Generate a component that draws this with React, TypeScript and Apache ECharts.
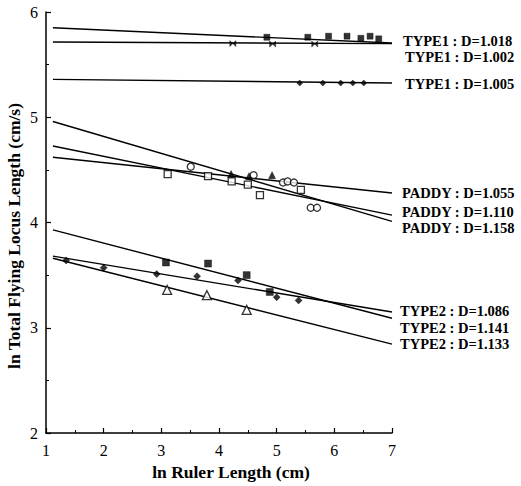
import React, { useEffect, useRef } from "react";
import * as echarts from "echarts";

// Fitted regression lines (start point, end point)
const type1Fits = [
  [[1.12, 5.85], [7, 5.705]],
  [[1.12, 5.715], [7, 5.7]],
  [[1.12, 5.36], [7, 5.325]],
];
const type1Labels = ["TYPE1 : D=1.018", "TYPE1 : D=1.002", "TYPE1 : D=1.005"];

const paddyFits = [
  [[1.12, 4.62], [7, 4.28]],
  [[1.12, 4.727], [7, 4.07]],
  [[1.12, 4.96], [7, 4.01]],
];
const paddyLabels = ["PADDY : D=1.055", "PADDY : D=1.110", "PADDY : D=1.158"];

const type2Fits = [
  [[1.12, 3.68], [7, 3.15]],
  [[1.12, 3.93], [7, 3.09]],
  [[1.12, 3.66], [7, 2.845]],
];
const type2Labels = ["TYPE2 : D=1.086", "TYPE2 : D=1.141", "TYPE2 : D=1.133"];

// Observed points
const type1Squares = [
  [4.83, 5.76], [5.54, 5.76], [5.9, 5.77], [6.22, 5.77], [6.46, 5.75], [6.62, 5.77], [6.77, 5.745],
];
const type1Crosses = [[4.24, 5.7], [4.93, 5.695], [5.66, 5.695]];
const type1Diamonds = [[5.4, 5.325], [5.8, 5.325], [6.11, 5.325], [6.32, 5.325], [6.51, 5.325]];

const paddyCircles = [
  [3.51, 4.53], [4.6, 4.45], [5.11, 4.38], [5.19, 4.39], [5.3, 4.38], [5.59, 4.14], [5.7, 4.14],
];
const paddySquares = [[3.11, 4.46], [3.81, 4.44], [4.22, 4.39], [4.5, 4.36], [4.71, 4.26], [5.42, 4.31]];
const paddyTriangles = [[4.21, 4.46], [4.52, 4.44], [4.92, 4.45]];

const type2Squares = [[3.08, 3.62], [3.81, 3.61], [4.48, 3.5], [4.88, 3.34]];
const type2Diamonds = [
  [1.35, 3.64], [2.0, 3.57], [2.92, 3.51], [3.62, 3.49], [4.33, 3.45], [5.0, 3.29], [5.38, 3.26],
];
const type2Triangles = [[3.1, 3.36], [3.79, 3.31], [4.48, 3.17]];

const xTitle = "ln Ruler Length (cm)";
const yTitle = "ln Total Flying Locus Length (cm/s)";

const FONT = "'Liberation Serif', 'Times New Roman', serif";

const labelPos = [
  [403, 41], [405, 57], [405, 84],
  [402, 193], [402, 212], [402, 228],
  [400, 311], [400, 328], [400, 344],
];

export default function App() {
  const ref = useRef<HTMLDivElement>(null);
  useEffect(() => {
    if (!ref.current) return;
    const chart = echarts.init(ref.current, null, { renderer: "svg" });
    const allFits = [...type1Fits, ...paddyFits, ...type2Fits];
    const allLabels = [...type1Labels, ...paddyLabels, ...type2Labels];
    const lineSeries = allFits.map((pts) => ({
      type: "line",
      data: pts,
      symbol: "none",
      lineStyle: { color: "#000", width: 1.4 },
      z: 2,
    }));
    const scatter = (data: number[][], symbol: string, size: number, filled: boolean) => ({
      type: "scatter",
      data,
      symbol,
      symbolSize: size,
      itemStyle: filled
        ? { color: "#000", borderColor: "#000", borderWidth: 0.5 }
        : { color: "#fff", borderColor: "#000", borderWidth: 1.3 },
      z: 3,
    });
    const bowtie = "path://M0,0L10,10L10,0L0,10Z";
    const titleStyle = {
      fontFamily: FONT,
      fontSize: 17.5,
      fontWeight: "bold",
      fill: "#000",
      align: "center",
      verticalAlign: "middle",
    };
    chart.setOption({
      animation: false,
      grid: { left: 46, right: 129, top: 12, bottom: 53, outerBoundsMode: "none", containLabel: false },
      xAxis: {
        type: "value",
        min: 1,
        max: 7,
        interval: 1,
        axisLine: { lineStyle: { color: "#000", width: 1.5 } },
        axisTick: { inside: true, length: 5, lineStyle: { color: "#000", width: 1.2 } },
        minorTick: { show: true, splitNumber: 2, length: 3, lineStyle: { color: "#000" } },
        axisLabel: { fontFamily: FONT, fontSize: 16, color: "#000", margin: 9 },
        splitLine: { show: false },
      },
      yAxis: {
        type: "value",
        min: 2,
        max: 6,
        interval: 1,
        axisLine: { lineStyle: { color: "#000", width: 1.5 } },
        axisTick: { inside: true, length: 5, lineStyle: { color: "#000", width: 1.2 } },
        minorTick: { show: true, splitNumber: 2, length: 3, lineStyle: { color: "#000" } },
        axisLabel: { fontFamily: FONT, fontSize: 16, color: "#000", margin: 8 },
        splitLine: { show: false },
      },
      series: [
        ...lineSeries,
        scatter(type1Squares, "rect", 6, true),
        scatter(type1Crosses, bowtie, 6, true),
        scatter(type1Diamonds, "diamond", 6, true),
        scatter(paddyCircles, "circle", 7, false),
        scatter(paddySquares, "rect", 7, false),
        scatter(paddyTriangles, "triangle", 7, true),
        scatter(type2Squares, "rect", 7, true),
        scatter(type2Diamonds, "diamond", 7, true),
        scatter(type2Triangles, "triangle", 9, false),
      ],
      graphic: [
        ...allLabels.map((t, i) => ({
          type: "text",
          x: labelPos[i][0],
          y: labelPos[i][1],
          style: {
            text: t,
            fontFamily: FONT,
            fontSize: 14.5,
            fontWeight: "bold",
            fill: "#000",
            verticalAlign: "middle",
            align: "left",
          },
        })),
        { type: "text", x: 231, y: 472, style: { ...titleStyle, text: xTitle } },
        { type: "text", x: 14, y: 236, rotation: Math.PI / 2, style: { ...titleStyle, text: yTitle } },
      ],
    });
    return () => chart.dispose();
  }, []);
  return <div ref={ref} style={{ width: 521, height: 486, position: "absolute", left: 0, top: 0 }} />;
}
